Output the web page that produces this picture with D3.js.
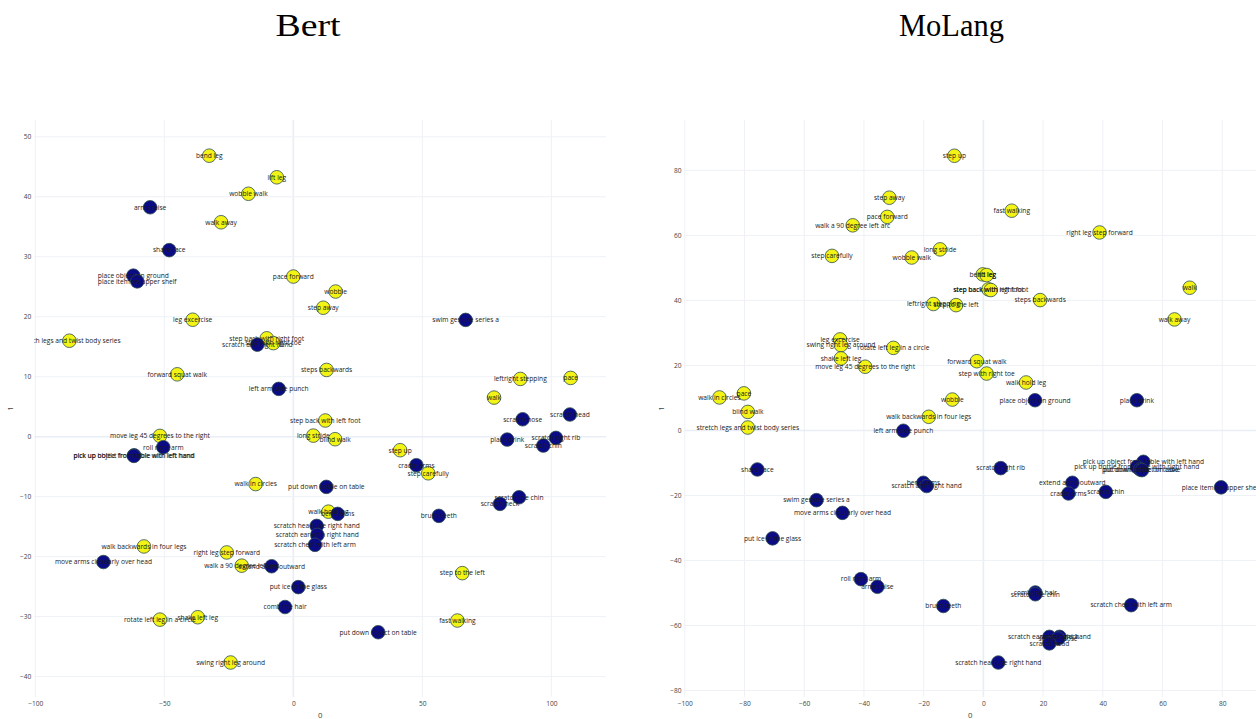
<!DOCTYPE html>
<html>
<head>
<meta charset="utf-8">
<script src="https://cdn.jsdelivr.net/npm/d3@7"></script>
<style>
  body { margin: 0; background: #fff; }
  svg { display: block; }
</style>
</head>
<body>
<svg id="chart" width="1260" height="719"></svg>
<script>
// ---- Bert embedding: leg-motion labels (yellow) ----
const bertLegLabels = ["bend leg","lift leg","wobble walk","walk away","pace forward","wobble","step away","leg excercise",
  "stretch legs and twist body series","step back with right foot","step with right toe","forward squat walk",
  "move leg 45 degrees to the right","walk in circles","steps backwards","leftright stepping","pace","walk",
  "step back with left foot","long stride","blind walk","step up","step carefully","walk hold leg","step to the left",
  "fast walking","walk backwards in four legs","right leg step forward","walk a 90 degree left arc",
  "rotate left leg in a circle","shake left leg","swing right leg around"];
const bertLegX = [-32.6,-6.4,-17.4,-28.0,0.0,16.4,11.6,-39.0,-86.8,-10.3,-7.75,-45.0,-51.7,-14.6,12.9,88.0,107.5,77.8,
  12.4,7.75,16.2,41.4,52.3,13.6,65.5,63.6,-57.9,-25.8,-20.0,-51.7,-37.05,-24.3];
const bertLegY = [46.85,43.25,40.5,35.75,26.7,24.2,21.5,19.5,16.0,16.4,15.6,10.4,0.13,-7.9,11.13,9.63,9.8,6.52,
  2.7,0.18,-0.42,-2.25,-6.1,-12.5,-22.75,-30.65,-18.3,-19.3,-21.5,-30.5,-30.1,-37.65];

// ---- Bert embedding: arm-motion labels (navy) ----
const bertArmLabels = ["arms raise","shave face","place object on ground","place item on upper shelf","scratch arm right hand",
  "swim gesture series a","left arm side punch","scratch nose","scratch head","place drink","scratch right rib","scratch chin",
  "roll right arm","pick up object from table with left hand","pick up bottle from table with left hand","cradle arms",
  "put down bottle on table","scratch the chin","scratch neck","brush teeth","bend arms","scratch head use right hand",
  "scratch ear with right hand","scratch chest with left arm","extend arms outward","put ice in the glass","comb the hair",
  "move arms circularly over head","put down object on table"];
const bertArmX = [-55.5,-48.1,-62.0,-60.5,-13.95,66.8,-5.66,88.9,107.2,82.9,101.8,96.9,-50.4,-61.7,-61.8,47.7,
  12.8,87.5,80.1,56.4,17.2,9.07,9.3,8.4,-8.4,1.94,-3.2,-73.6,32.9];
const bertArmY = [38.25,31.1,26.85,25.9,15.35,19.47,7.97,2.9,3.7,-0.48,-0.2,-1.48,-1.75,-3.1,-3.2,-4.75,
  -8.37,-10.1,-11.2,-13.2,-12.87,-14.87,-16.37,-18.03,-21.6,-25.08,-28.4,-20.9,-32.6];

// ---- MoLang embedding: leg-motion labels (yellow) ----
const moLegLabels = ["step up","step away","pace forward","walk a 90 degree left arc","fast walking","right leg step forward",
  "step carefully","wobble walk","long stride","bend leg","lift leg","step back with left foot","step back with right foot",
  "leftright stepping","step to the left","steps backwards","walk","walk away","leg excercise","swing right leg around",
  "rotate left leg in a circle","shake left leg","move leg 45 degrees to the right","forward squat walk","step with right toe",
  "walk hold leg","wobble","walk in circles","pace","blind walk","stretch legs and twist body series","walk backwards in four legs"];
const moLegX = [-9.7,-31.5,-32.2,-43.75,9.5,38.9,-50.7,-24.0,-14.5,-0.2,1.1,1.7,2.5,-16.75,-9.15,19.0,69.1,64.0,
  -48.0,-47.7,-30.15,-47.7,-39.6,-2.2,1.1,14.3,-10.4,-88.4,-80.2,-78.9,-78.9,-18.3];
const moLegY = [84.5,71.6,65.7,63.1,67.6,60.9,53.7,53.2,55.7,48.0,47.8,43.4,43.2,38.9,38.55,40.1,43.9,34.15,
  28.0,26.25,25.4,22.15,19.6,21.3,17.5,14.75,9.5,10.15,11.4,5.7,0.9,4.2];

// ---- MoLang embedding: arm-motion labels (navy) ----
const moArmLabels = ["place object on ground","place drink","left arm side punch","shave face","scratch right rib",
  "pick up object from table with left hand","pick up bottle from table with right hand","put down bottle on table",
  "put down object on table","extend arms outward","cradle arms","scratch chin","place item on upper shelf","bend arms",
  "scratch arm right hand","swim gesture series a","move arms circularly over head","put ice in the glass","roll right arm",
  "arms raise","brush teeth","comb the hair","scratch the chin","scratch chest with left arm","scratch ear with right hand",
  "scratch neck","scratch nose","scratch head","scratch head use right hand"];
const moArmX = [17.3,51.4,-26.8,-75.7,5.8,53.6,51.4,52.5,53.1,29.8,28.5,41.0,79.6,-20.1,-19.0,-55.9,-47.2,-70.6,-41.0,
  -35.5,-13.4,17.4,17.4,49.5,22.1,25.5,25.0,22.1,5.0];
const moArmY = [9.3,9.3,-0.1,-12.0,-11.6,-9.65,-11.2,-12.0,-12.2,-16.1,-19.4,-18.9,-17.5,-16.1,-17.1,-21.45,-25.35,-33.2,
  -45.75,-48.1,-54.0,-49.85,-50.4,-53.75,-63.5,-63.5,-64.0,-65.5,-71.4];

// ---- axis ticks ----
const bertXTicks = [-100, -50, 0, 50, 100];
const bertYTicks = [-40, -30, -20, -10, 0, 10, 20, 30, 40, 50];
const moXTicks = [-100, -80, -60, -40, -20, 0, 20, 40, 60, 80];
const moYTicks = [-80, -60, -40, -20, 0, 20, 40, 60, 80];

const LEG_COLOR = "#f3f316";
const ARM_COLOR = "#0b0b86";
const GRID = "#eef1f6";
const ZERO = "#e8edf6";
const TICK_COLOR = "#444";
const FONT = "'Open Sans', 'DejaVu Sans', sans-serif";

const zip = (labels, xs, ys) => labels.map((l, i) => ({ label: l, x: xs[i], y: ys[i] }));

const panels = [
  {
    id: "bert", title: "Bert", titleX: 308, titleW: 65,
    left: 34.3, right: 606, top: 120, bottom: 697,
    xDomain: [-100.4, 121.2], yDomain: [-43.4, 52.8],
    xTicks: bertXTicks, yTicks: bertYTicks,
    leg: zip(bertLegLabels, bertLegX, bertLegY),
    arm: zip(bertArmLabels, bertArmX, bertArmY)
  },
  {
    id: "molang", title: "MoLang", titleX: 951.5, titleW: 105,
    left: 684.5, right: 1256, top: 120, bottom: 697,
    xDomain: [-100.1, 91.3], yDomain: [-82, 95.5],
    xTicks: moXTicks, yTicks: moYTicks,
    leg: zip(moLegLabels, moLegX, moLegY),
    arm: zip(moArmLabels, moArmX, moArmY)
  }
];

const svg = d3.select("#chart");
svg.append("rect").attr("width", 1260).attr("height", 719).attr("fill", "#fff");

panels.forEach(p => {
  const x = d3.scaleLinear().domain(p.xDomain).range([p.left, p.right]);
  const y = d3.scaleLinear().domain(p.yDomain).range([p.bottom, p.top]);
  const g = svg.append("g").attr("class", "panel-" + p.id);

  // grid lines (zero lines slightly heavier)
  const grid = g.append("g").attr("class", "grid");
  grid.selectAll("line.gx").data(p.xTicks).join("line")
    .attr("x1", d => x(d)).attr("x2", d => x(d))
    .attr("y1", p.top).attr("y2", p.bottom)
    .attr("stroke", d => d === 0 ? ZERO : GRID).attr("stroke-width", d => d === 0 ? 1.6 : 1);
  grid.selectAll("line.gy").data(p.yTicks).join("line")
    .attr("y1", d => y(d)).attr("y2", d => y(d))
    .attr("x1", p.left).attr("x2", p.right)
    .attr("stroke", d => d === 0 ? ZERO : GRID).attr("stroke-width", d => d === 0 ? 1.6 : 1);

  // tick labels via d3 axes (domain and tick marks hidden)
  const xAxis = d3.axisBottom(x).tickValues(p.xTicks).tickSize(0).tickPadding(4);
  const ax = g.append("g").attr("transform", `translate(0,${p.bottom + 0.5})`).call(xAxis);
  const yAxis = d3.axisLeft(y).tickValues(p.yTicks).tickSize(0).tickPadding(3);
  const ay = g.append("g").attr("transform", `translate(${p.left},0)`).call(yAxis);
  [ax, ay].forEach(a => {
    a.select(".domain").remove();
    a.selectAll("text").attr("fill", TICK_COLOR).style("font-family", FONT).style("font-size", "6.6px");
  });

  // axis titles
  g.append("text").attr("x", (p.left + p.right) / 2).attr("y", 718)
    .attr("text-anchor", "middle").attr("fill", TICK_COLOR)
    .style("font-family", FONT).style("font-size", "7.8px").text("0");
  g.append("text").attr("transform", `translate(${p.left - 21},${(p.top + p.bottom) / 2}) rotate(-90)`)
    .attr("text-anchor", "middle").attr("fill", TICK_COLOR)
    .style("font-family", FONT).style("font-size", "7.8px").text("1");

  // panel title
  g.append("text").attr("x", p.titleX).attr("y", 36)
    .attr("text-anchor", "middle").attr("fill", "#000")
    .attr("textLength", p.titleW).attr("lengthAdjust", "spacingAndGlyphs")
    .style("font-family", "'Liberation Serif', 'DejaVu Serif', serif").style("font-size", "31px")
    .text(p.title);

  // plot area clip
  const clipId = "clip-" + p.id;
  svg.append("clipPath").attr("id", clipId).append("rect")
    .attr("x", p.left).attr("y", p.top).attr("width", p.right - p.left).attr("height", p.bottom - p.top);
  const plot = g.append("g").attr("clip-path", `url(#${clipId})`);

  const series = [
    { data: p.leg, color: LEG_COLOR },
    { data: p.arm, color: ARM_COLOR }
  ];
  series.forEach(s => {
    plot.append("g").selectAll("circle").data(s.data).join("circle")
      .attr("cx", d => x(d.x)).attr("cy", d => y(d.y)).attr("r", 6.8)
      .attr("fill", s.color).attr("stroke", "#2f4f4f").attr("stroke-width", 0.8);
  });
  series.forEach(s => {
    plot.append("g").selectAll("text").data(s.data).join("text")
      .attr("x", d => x(d.x)).attr("y", d => y(d.y))
      .attr("text-anchor", "middle").attr("dy", "0.35em")
      .attr("fill", "#1a1a1a")
      .style("font-family", FONT).style("font-size", "6.65px")
      .text(d => d.label);
  });
});
</script>
</body>
</html>
